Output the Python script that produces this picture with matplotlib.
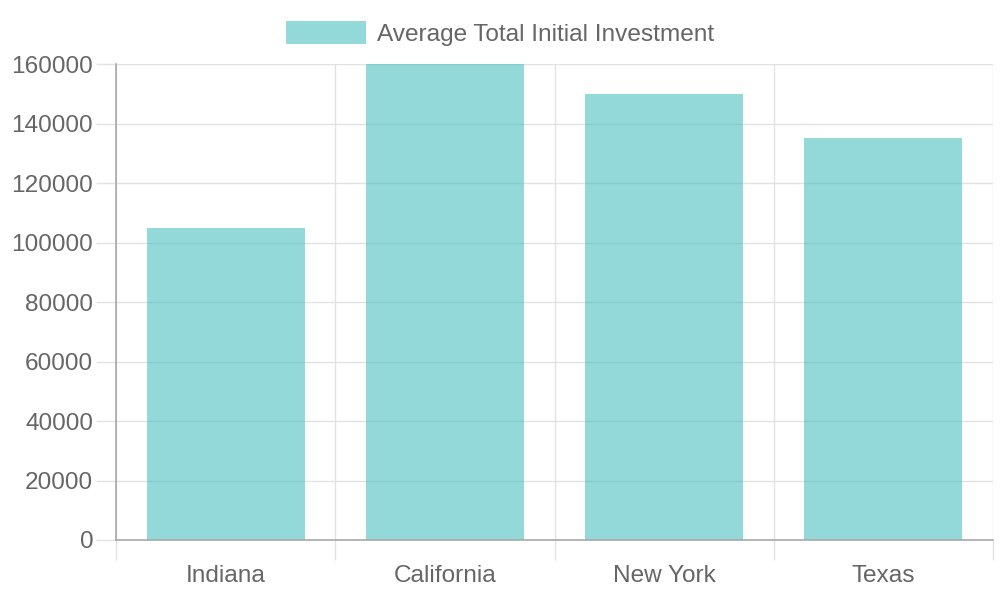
import matplotlib
matplotlib.use('Agg')
import matplotlib.pyplot as plt
import numpy as np

plt.rcParams['font.family'] = ['Liberation Sans', 'DejaVu Sans']

states = ['Indiana', 'California', 'New York', 'Texas']
investment = [105000, 160000, 150000, 135000]
y_ticks = [0, 20000, 40000, 60000, 80000, 100000, 120000, 140000, 160000]
series_name = 'Average Total Initial Investment'

text_col = '#666666'
grid_col = '#e2e2e2'
axis_col = '#a8a8a8'
bar_col = (75/255, 192/255, 192/255, 0.6)
fsize = 17.6

fig = plt.figure(figsize=(10, 6), dpi=100)
ax = fig.add_axes([0.116, 0.1, 0.877, 0.7933])

x = np.arange(len(states))
ax.bar(x, investment, width=0.72, color=bar_col, zorder=3, label=series_name)

ax.set_xlim(-0.5, len(states) - 0.5)
ax.set_ylim(0, 160000)
ax.set_yticks(y_ticks)
ax.set_yticklabels([str(v) for v in y_ticks])
ax.set_xticks(x)
ax.set_xticklabels(states)
ax.set_xticks(np.arange(len(states) + 1) - 0.5, minor=True)

ax.tick_params(axis='x', which='major', length=0, pad=18, labelsize=fsize, labelcolor=text_col)
ax.tick_params(axis='x', which='minor', length=14.4, width=1, color=grid_col)
ax.tick_params(axis='y', length=14.4, width=1, color=grid_col, pad=2, labelsize=fsize, labelcolor=text_col)

ax.grid(True, axis='y', color=grid_col, linewidth=1, zorder=0)
ax.grid(True, axis='x', which='minor', color=grid_col, linewidth=1, zorder=0)
ax.grid(False, axis='x', which='major')
ax.set_axisbelow(True)

for s in ['top', 'right']:
    ax.spines[s].set_visible(False)
for s in ['left', 'bottom']:
    ax.spines[s].set_color(axis_col)
    ax.spines[s].set_linewidth(1.2)
    ax.spines[s].set_zorder(4)
# leftmost category tick below the axis uses the axis colour
ax.xaxis.get_minor_ticks()[0].tick1line.set_color(axis_col)

fig.legend(loc='upper center', bbox_to_anchor=(0.5, 1.0), frameon=False,
           fontsize=fsize, labelcolor=text_col, handlelength=3.3, handleheight=1.1,
           handletextpad=0.45, borderaxespad=0.45)

fig.savefig('out.png', dpi=100)
